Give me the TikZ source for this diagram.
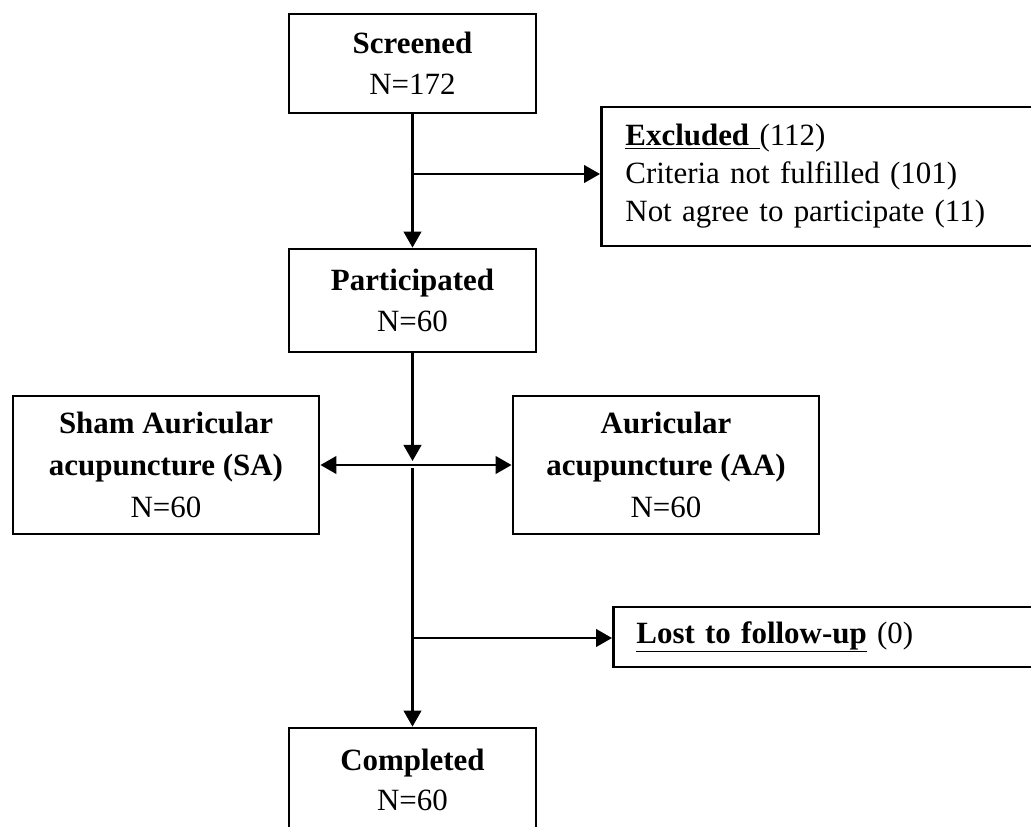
\documentclass[tikz,border=0pt]{standalone}
\usepackage{fontspec}
\setmainfont{Liberation Serif}
\usetikzlibrary{positioning, arrows.meta}

\begin{document}
\begin{tikzpicture}[
        x=0.025cm, y=-0.025cm,
        stagebox/.style={rectangle, draw, line width=2pt, text centered, align=center, minimum width=6.175cm, minimum height=2.5cm, inner sep=0pt, font=\fontsize{22}{29}\selectfont},
        groupbox/.style={stagebox, minimum width=7.65cm, minimum height=3.45cm, font=\fontsize{22}{30}\selectfont},
        sidebox/.style={rectangle, draw, line width=2pt, anchor=west, align=left, text width=10cm, inner xsep=0.6cm, font=\fontsize{22}{27}\selectfont},
        arrow/.style={line width=1.7pt, ->, >={Triangle[length=0.4cm, width=0.44cm]}}
    ]
    \useasboundingbox (0,0) rectangle (1031,827);
    \clip (0,0) rectangle (1031,827);
    \node[stagebox, minimum height=2.475cm] (screened) at (412.5,63.5) {\textbf{Screened}\\N=172};
    \node[sidebox, minimum height=3.475cm] (excluded) at (600,176.5) {\underline{\textbf{Excluded}\ }(112)\\Criteria not fulfilled (101)\\Not agree to participate (11)};
    \node[stagebox, minimum height=2.575cm] (participated) at (412.5,300.5) {\textbf{Participated}\\N=60};
    \node[groupbox] (sham) at (166,465) {\textbf{Sham Auricular}\\\textbf{acupuncture (SA)}\\N=60};
    \node[groupbox] (auricular) at (666,465) {\textbf{Auricular}\\\textbf{acupuncture (AA)}\\N=60};
    \node[sidebox, minimum height=1.5cm, inner xsep=0.575cm] (lost) at (612,637) {\underline{\textbf{Lost to follow-up}} (0)};
    \node[stagebox, minimum height=2.6cm] (completed) at (412.5,780) {\textbf{Completed}\\N=60};

    \coordinate (toexcl) at (412.5,174);
    \coordinate (split) at (412.5,465);
    \coordinate (tolost) at (412.5,638);

    \draw[arrow] (screened) -- (participated);
    \draw[arrow] (toexcl) -- (toexcl -| excluded.west);
    \draw[arrow, shorten >=0.1cm] (participated) -- (split);
    \draw[arrow, <->] (split -| sham.east) -- (split -| auricular.west);
    \draw[arrow] ([yshift=-0.08cm]split) -- (completed);
    \draw[arrow] (tolost) -- (tolost -| lost.west);
\end{tikzpicture}
\end{document}
